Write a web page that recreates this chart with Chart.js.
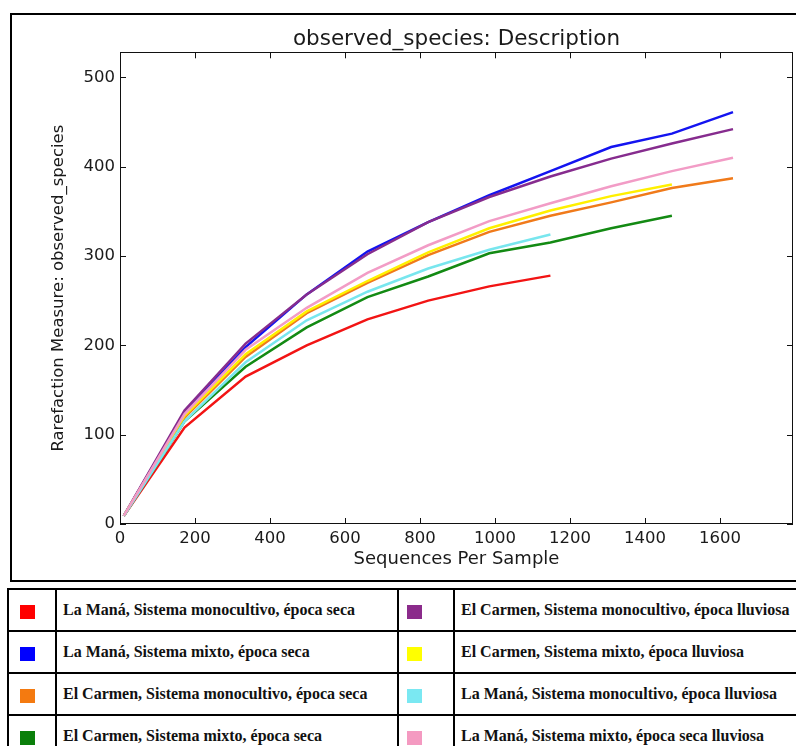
<!DOCTYPE html>
<html>
<head>
<meta charset="utf-8">
<script src="https://cdn.jsdelivr.net/npm/chart.js@4.4.1/dist/chart.umd.min.js"></script>
<style>
  html, body { margin: 0; padding: 0; background: #fff; width: 796px; height: 746px; overflow: hidden; }
  #frame { position: absolute; left: 10px; top: 13px; width: 900px; height: 565px; border: 2px solid #000; }
  #wrap { position: absolute; left: 0; top: 0; width: 796px; height: 586px; }
  #legend { position: absolute; left: 7px; top: 588px; display: grid;
    grid-template-columns: 46px 340px 54px 360px; grid-auto-rows: 40px; gap: 2px; padding: 2px;
    background: #000; }
  #legend div { background: #fff; display: flex; align-items: center;
    font-family: "Liberation Serif", "Times New Roman", serif; font-weight: bold; font-size: 16px; color: #111; }
  #legend .sw { padding-top: 4px; }
  #legend .sw span { display: inline-block; width: 15px; height: 14px; }
  #legend .c0 { padding-left: 11px; }
  #legend .c2 { padding-left: 8px; }
  #legend .tx { padding-left: 6px; white-space: nowrap; }
</style>
</head>
<body>
<div id="frame"></div>
<div id="wrap"><canvas id="c" width="796" height="586"></canvas></div>
<div id="legend"></div>
<script>
// ---- data ----
const xValues = [10, 172, 335, 498, 660, 822, 985, 1148, 1310, 1472, 1635];
const seriesNames = [
  "La Maná, Sistema monocultivo, época seca",
  "La Maná, Sistema mixto, época seca",
  "El Carmen, Sistema monocultivo, época seca",
  "El Carmen, Sistema mixto, época seca",
  "El Carmen, Sistema monocultivo, época lluviosa",
  "El Carmen, Sistema mixto, época lluviosa",
  "La Maná, Sistema monocultivo, época lluviosa",
  "La Maná, Sistema mixto, época seca lluviosa"
];
const laManaMonoSeca    = [9, 108, 165, 200, 229, 250, 266, 278];
const laManaMixtoSeca   = [9, 124, 198, 257, 305, 338, 368, 395, 422, 437, 461];
const elCarmenMonoSeca  = [9, 119, 187, 236, 270, 301, 327, 345, 360, 376, 387];
const elCarmenMixtoSeca = [9, 115, 176, 220, 254, 277, 303, 315, 331, 345];
const elCarmenMonoLluv  = [9, 127, 202, 257, 302, 338, 366, 389, 409, 426, 442];
const elCarmenMixtoLluv = [9, 121, 190, 238, 272, 304, 331, 351, 367, 380];
const laManaMonoLluv    = [9, 115, 181, 228, 260, 286, 307, 324];
const laManaMixtoLluv   = [9, 123, 195, 242, 281, 312, 339, 359, 378, 395, 410];
const xTickLabels = [0, 200, 400, 600, 800, 1000, 1200, 1400, 1600];
const yTickLabels = [0, 100, 200, 300, 400, 500];

// ---- styles ----
const lineColors = ["#f21414", "#1414f0", "#f07a1a", "#138a13", "#862c8e", "#fff000", "#78e6ee", "#f29cc6"];
const swatchColors = ["#ff0000", "#0000ff", "#f47a10", "#0a7f0a", "#8b2b8b", "#ffff00", "#7ae8f2", "#f49ac1"];

const allSeries = [laManaMonoSeca, laManaMixtoSeca, elCarmenMonoSeca, elCarmenMixtoSeca,
                   elCarmenMonoLluv, elCarmenMixtoLluv, laManaMonoLluv, laManaMixtoLluv];

const datasets = allSeries.map((s, i) => ({
  label: seriesNames[i],
  data: s.map((v, j) => ({ x: xValues[j], y: v })),
  borderColor: lineColors[i],
  backgroundColor: lineColors[i],
  borderWidth: 2.5,
  pointRadius: 0,
  tension: 0,
  fill: false,
  order: allSeries.length - i
}));

const frameTicks = {
  id: 'frameTicks',
  afterDatasetsDraw(chart) {
    const { ctx, chartArea: a, scales: { x, y } } = chart;
    ctx.save();
    ctx.strokeStyle = '#111';
    ctx.lineWidth = 1;
    ctx.strokeRect(Math.round(a.left) + 0.5, Math.round(a.top) + 0.5,
                   Math.round(a.right - a.left) - 1, Math.round(a.bottom - a.top) - 1);
    const L = 6;
    ctx.beginPath();
    x.ticks.forEach(t => {
      const px = Math.round(x.getPixelForValue(t.value)) + 0.5;
      ctx.moveTo(px, a.bottom); ctx.lineTo(px, a.bottom - L);
      ctx.moveTo(px, a.top); ctx.lineTo(px, a.top + L);
    });
    y.ticks.forEach(t => {
      const py = Math.round(y.getPixelForValue(t.value)) + 0.5;
      ctx.moveTo(a.left, py); ctx.lineTo(a.left + L, py);
      ctx.moveTo(a.right, py); ctx.lineTo(a.right - L, py);
    });
    ctx.stroke();
    ctx.restore();
  }
};

const tickFont = { family: 'DejaVu Sans', size: 16.5 };

new Chart(document.getElementById('c'), {
  type: 'line',
  data: { datasets },
  plugins: [frameTicks],
  options: {
    responsive: false,
    animation: false,
    layout: { padding: { left: 0, right: 3, top: 0, bottom: 0 } },
    plugins: {
      legend: { display: false },
      tooltip: { enabled: false },
      title: {
        display: true, fullSize: false,
        text: 'observed_species: Description',
        color: '#1a1a1a',
        font: { family: 'DejaVu Sans', size: 21.5, weight: 'normal' },
        padding: { top: 26.5, bottom: 0 }
      }
    },
    scales: {
      x: {
        type: 'linear', min: 0, max: 1795,
        grid: { display: false, drawTicks: false },
        border: { display: false },
        afterBuildTicks: s => { s.ticks = xTickLabels.map(v => ({ value: v })); },
        afterFit: s => { s.height = 62; },
        ticks: { color: '#1a1a1a', font: tickFont, padding: 5, maxRotation: 0, callback: v => String(v) },
        title: { display: true, text: 'Sequences Per Sample', color: '#1a1a1a',
                 font: { family: 'DejaVu Sans', size: 18 }, padding: { top: 0, bottom: 15.5 } }
      },
      y: {
        type: 'linear', min: 0, max: 528,
        grid: { display: false, drawTicks: false },
        border: { display: false },
        afterBuildTicks: s => { s.ticks = yTickLabels.map(v => ({ value: v })); },
        afterFit: s => { s.width = 120; },
        ticks: { color: '#1a1a1a', font: tickFont, padding: 5, callback: v => String(v) },
        title: { display: true, text: 'Rarefaction Measure: observed_species', color: '#1a1a1a',
                 font: { family: 'DejaVu Sans', size: 16.5 }, padding: { top: 49, bottom: 0 } }
      }
    }
  }
});

// ---- legend table ----
const leg = document.getElementById('legend');
for (let r = 0; r < 4; r++) {
  [r, r + 4].forEach((k, side) => {
    const sw = document.createElement('div');
    sw.className = 'sw ' + (side === 0 ? 'c0' : 'c2');
    const sp = document.createElement('span');
    sp.style.background = swatchColors[k];
    sw.appendChild(sp);
    const tx = document.createElement('div');
    tx.className = 'tx';
    tx.textContent = seriesNames[k];
    leg.appendChild(sw);
    leg.appendChild(tx);
  });
}
</script>
</body>
</html>
